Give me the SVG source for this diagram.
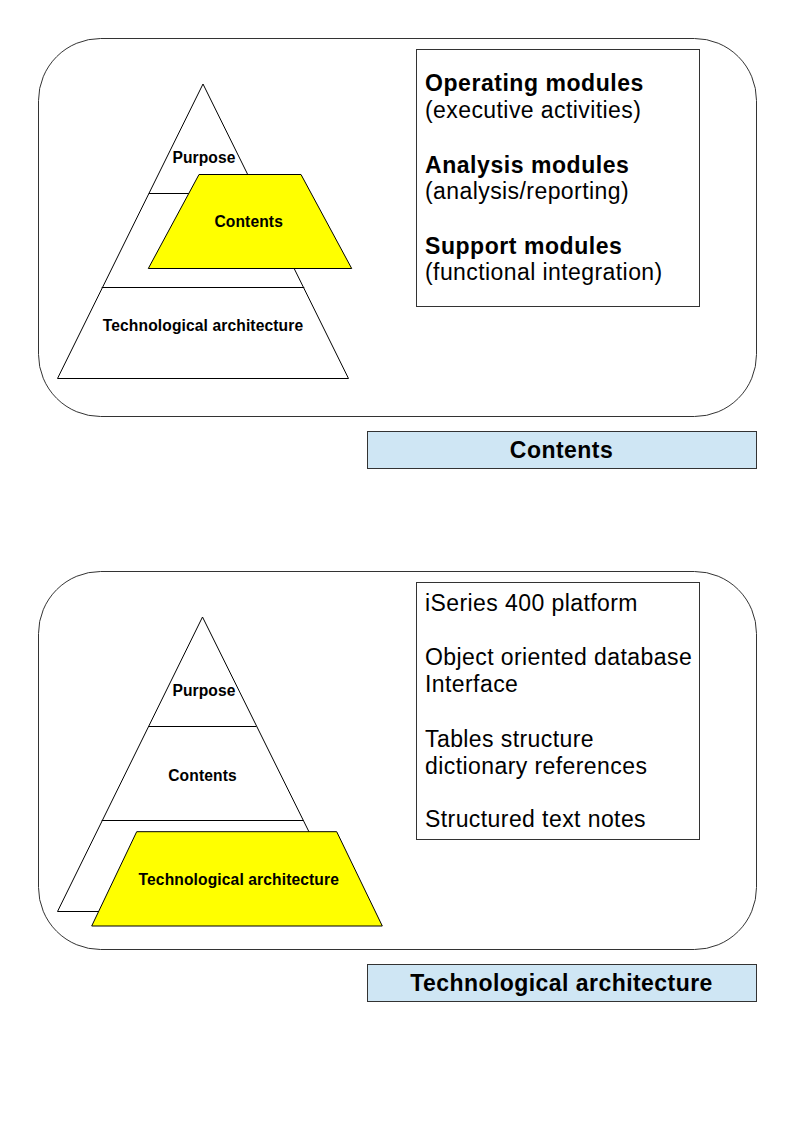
<svg xmlns="http://www.w3.org/2000/svg" width="794" height="1123" viewBox="0 0 794 1123">
<style>
  .panel { fill: #ffffff; stroke: #333333; stroke-width: 1; }
  .tri { fill: #ffffff; stroke: #000000; stroke-width: 1; }
  .div { stroke: #000000; stroke-width: 1; fill: none; }
  .hl { fill: #ffff00; stroke: #000000; stroke-width: 1; }
  .box { fill: #ffffff; stroke: #333333; stroke-width: 1; }
  .cap { fill: #cfe6f4; stroke: #333333; stroke-width: 1; }
  text { font-family: "Liberation Sans", Arial, sans-serif; fill: #000000; }
  .lbl { font-size: 15.6px; font-weight: bold; text-anchor: middle; letter-spacing: 0.12px; }
  .big { font-size: 23px; font-weight: bold; letter-spacing: 0.55px; }
  .reg { font-size: 23px; letter-spacing: 0.42px; }
  .title { font-size: 23px; font-weight: bold; text-anchor: middle; letter-spacing: 0.45px; }
</style>
<rect width="794" height="1123" fill="#ffffff"/>

<g id="panel-contents">
  <rect class="panel" x="38.5" y="38.5" width="718" height="378" rx="62" ry="62"/>
  <g id="pyramid-1">
    <polygon class="tri" points="203,84 57.5,378.5 348.5,378.5"/>
    <line class="div" x1="148.9" y1="193.5" x2="257" y2="193.5"/>
    <line class="div" x1="101.7" y1="287.5" x2="304.3" y2="287.5"/>
    <text class="lbl" x="204" y="162.7">Purpose</text>
    <text class="lbl" x="203" y="331">Technological architecture</text>
  </g>
  <g id="highlight-contents">
    <polygon class="hl" points="199,174.5 301,174.5 351.7,268.5 148.3,268.5"/>
    <text class="lbl" x="248.7" y="227">Contents</text>
  </g>
  <g id="text-contents">
    <rect class="box" x="416.5" y="49.5" width="283" height="257"/>
    <text class="big" x="425" y="91">Operating modules</text>
    <text class="reg" x="425" y="118">(executive activities)</text>
    <text class="big" x="425" y="173">Analysis modules</text>
    <text class="reg" x="425" y="199">(analysis/reporting)</text>
    <text class="big" x="425" y="254">Support modules</text>
    <text class="reg" x="425" y="280">(functional integration)</text>
  </g>
  <g id="caption-contents">
    <rect class="cap" x="367.5" y="431.5" width="389" height="37"/>
    <text class="title" x="561.5" y="457.5">Contents</text>
  </g>
</g>

<g id="panel-tech">
  <rect class="panel" x="38.5" y="571.5" width="718" height="378" rx="62" ry="62"/>
  <g id="pyramid-2">
    <polygon class="tri" points="202.5,617 57.5,911.5 348.5,911.5"/>
    <line class="div" x1="148.7" y1="726.5" x2="256.3" y2="726.5"/>
    <line class="div" x1="101.7" y1="820.5" x2="303.3" y2="820.5"/>
    <text class="lbl" x="204" y="696">Purpose</text>
    <text class="lbl" x="202.5" y="781">Contents</text>
  </g>
  <g id="highlight-tech">
    <polygon class="hl" points="136.7,831.7 336.7,831.7 382.3,926 91.7,926"/>
    <text class="lbl" x="238.8" y="885">Technological architecture</text>
  </g>
  <g id="text-tech">
    <rect class="box" x="416.5" y="582.5" width="283" height="257"/>
    <text class="reg" x="425" y="611">iSeries 400 platform</text>
    <text class="reg" x="425" y="665">Object oriented database</text>
    <text class="reg" x="425" y="692">Interface</text>
    <text class="reg" x="425" y="747">Tables structure</text>
    <text class="reg" x="425" y="774">dictionary references</text>
    <text class="reg" x="425" y="827">Structured text notes</text>
  </g>
  <g id="caption-tech">
    <rect class="cap" x="367.5" y="964.5" width="389" height="37"/>
    <text class="title" x="561.5" y="990.5">Technological architecture</text>
  </g>
</g>

<g id="connectors"></g>
</svg>
